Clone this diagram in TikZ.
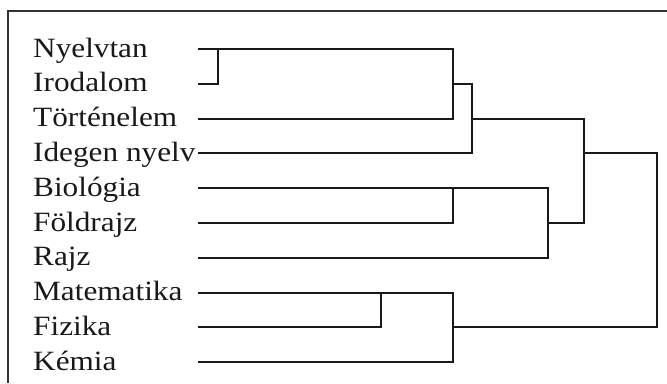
\documentclass[tikz,border=0pt]{standalone}
\usepackage{fontspec}
\newfontfamily\labfont[FakeStretch=1.12]{Liberation Serif}
\begin{document}
\begin{tikzpicture}[x=1bp,y=-1bp,
  lab/.style={anchor=base west, inner sep=0pt, font=\labfont\fontsize{28}{30}\selectfont, text=black!90},
  den/.style={draw=black!90, line width=2bp, line join=miter},
  frame/.style={draw=black!80, line width=1.2bp}]
\useasboundingbox (0,0) rectangle (667,383);
\fill[white] (0,0) rectangle (667,383);
\draw[frame] (8,383) -- (8,11) -- (667,11);
% rows
\def\yA{49}\def\yB{83.8}\def\yC{118.6}\def\yD{153.4}\def\yE{188.2}
\def\yF{223}\def\yG{257.8}\def\yH{292.6}\def\yI{327.4}\def\yJ{362.2}
% labels
\node[lab] (nyelvtan) at (33,\yA+8) {Nyelvtan};
\node[lab] (irodalom) at (33,\yB+8) {Irodalom};
\node[lab] (tortenelem) at (33,\yC+8) {Történelem};
\node[lab] (idegen) at (33,\yD+8) {Idegen nyelv};
\node[lab] (biologia) at (33,\yE+8) {Biológia};
\node[lab] (foldrajz) at (33,\yF+8) {Földrajz};
\node[lab] (rajz) at (33,\yG+8) {Rajz};
\node[lab] (matek) at (33,\yH+8) {Matematika};
\node[lab] (fizika) at (33,\yI+8) {Fizika};
\node[lab] (kemia) at (33,\yJ+8) {Kémia};
% leaf ends
\coordinate (l1) at (198,\yA);
\coordinate (l2) at (198,\yB);
\coordinate (l3) at (198,\yC);
\coordinate (l4) at (198,\yD);
\coordinate (l5) at (198,\yE);
\coordinate (l6) at (198,\yF);
\coordinate (l7) at (198,\yG);
\coordinate (l8) at (198,\yH);
\coordinate (l9) at (198,\yI);
\coordinate (l10) at (198,\yJ);
% junctions
\coordinate (j12) at (218,\yA);
\coordinate (j123) at (453,\yB);
\coordinate (j1234) at (472,\yC);
\coordinate (j56) at (453,\yE);
\coordinate (j567) at (548,\yF);
\coordinate (jall) at (584,\yD);
\coordinate (j89) at (381,\yH);
\coordinate (j8910) at (453,\yI);
% dendrogram
\draw[den] (l2) -| (j12);
\draw[den] (l1) -- (453,\yA) -- (453,\yC) -- (l3);
\draw[den] (j123) -- (472,\yB) -- (472,\yD) -- (l4);
\draw[den] (j1234) -- (584,\yC) -- (584,\yF) -- (j567);
\draw[den] (l5) -- (453,\yE) -- (453,\yF) -- (l6);
\draw[den] (j56) -- (548,\yE) -- (548,\yG) -- (l7);
\draw[den] (l9) -| (j89);
\draw[den] (l8) -- (453,\yH) -- (453,\yJ) -- (l10);
\draw[den] (j8910) -- (657,\yI) -- (657,\yD) -- (jall);
\end{tikzpicture}
\end{document}
